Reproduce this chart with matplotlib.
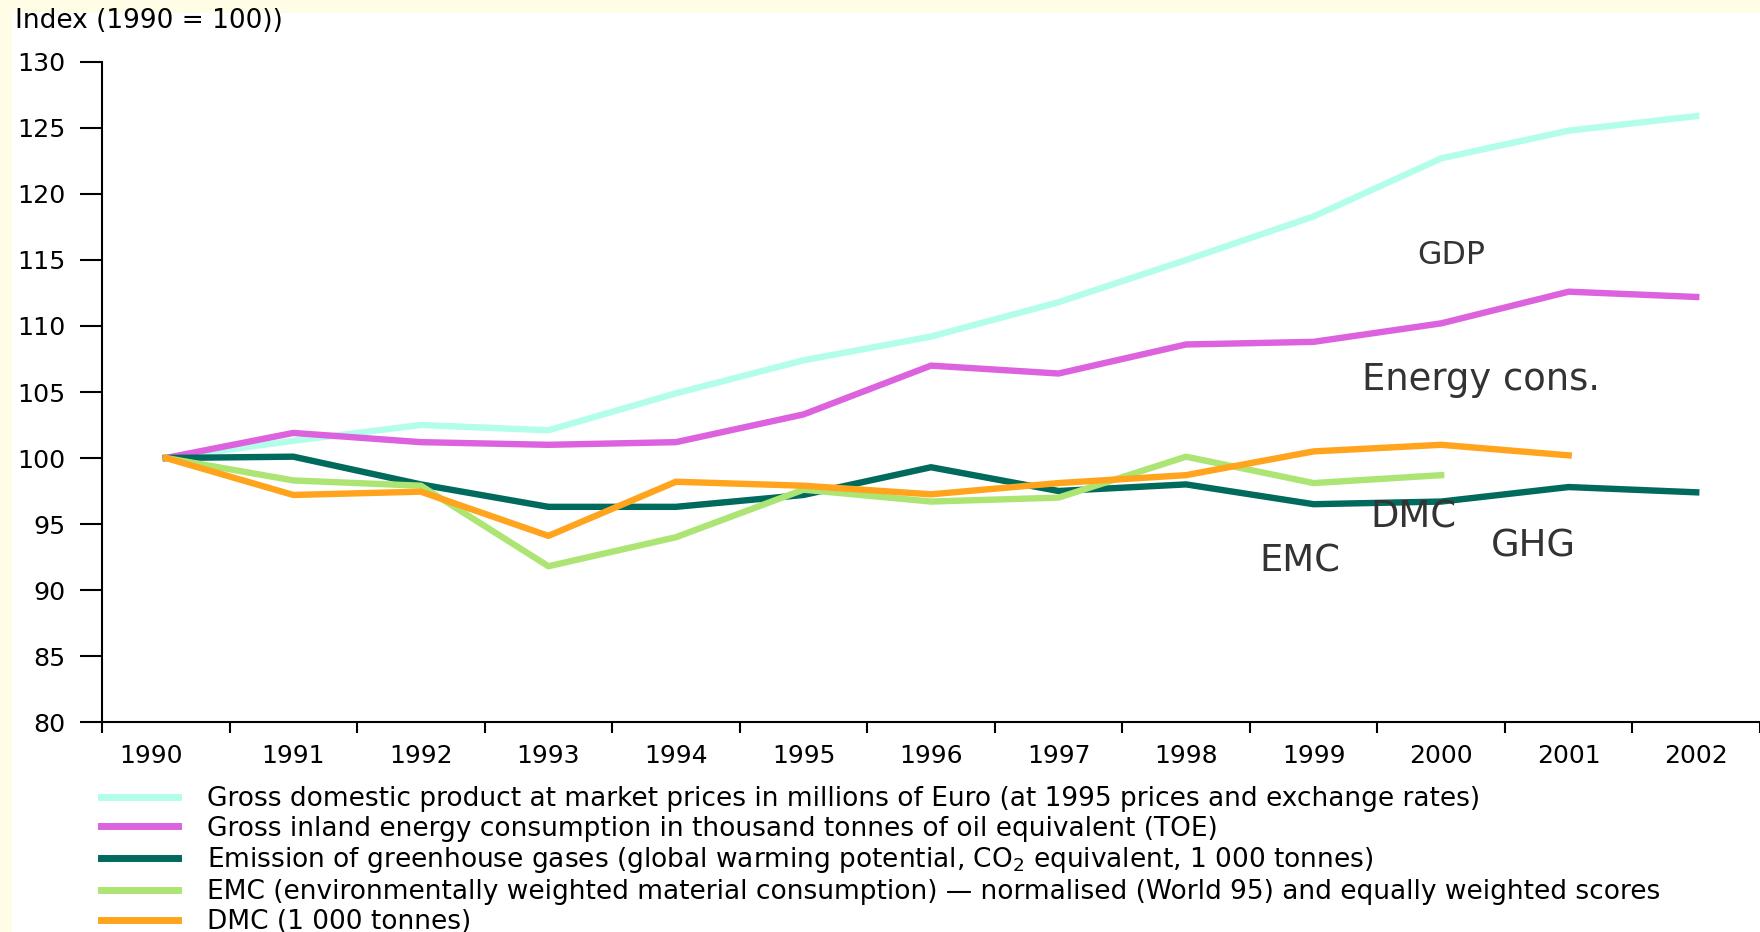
import numpy as np
import matplotlib
matplotlib.use('Agg')
import matplotlib.pyplot as plt
from matplotlib.patches import Rectangle
from matplotlib.transforms import ScaledTranslation

years = ['1990', '1991', '1992', '1993', '1994', '1995', '1996',
         '1997', '1998', '1999', '2000', '2001', '2002']

gdp    = [100, 101.3, 102.5, 102.1, 104.9, 107.4, 109.2, 111.8, 115.0, 118.3, 122.7, 124.8, 125.9]
energy = [100, 101.9, 101.2, 101.0, 101.2, 103.3, 107.0, 106.4, 108.6, 108.8, 110.2, 112.6, 112.2]
ghg    = [100, 100.1, 98.0, 96.3, 96.3, 97.2, 99.3, 97.5, 98.0, 96.5, 96.7, 97.8, 97.4]
emc    = [100, 98.3, 97.9, 91.8, 94.0, 97.6, 96.7, 97.0, 100.1, 98.1, 98.7]
dmc    = [100, 97.2, 97.45, 94.1, 98.2, 97.9, 97.25, 98.1, 98.7, 100.5, 101.0, 100.2]

labels = ['Gross domestic product at market prices in millions of Euro (at 1995 prices and exchange rates)',
          'Gross inland energy consumption in thousand tonnes of oil equivalent (TOE)',
          'Emission of greenhouse gases (global warming potential, CO$_2$ equivalent, 1 000 tonnes)',
          'EMC (environmentally weighted material consumption) \u2014 normalised (World 95) and equally weighted scores',
          'DMC (1 000 tonnes)']
colors = ['#B3FDEB', '#DD62DD', '#006A5C', '#ADE575', '#FFA41C']

plt.rcParams['font.family'] = ['DejaVu Sans']
W, H = 1760, 932
fig = plt.figure(figsize=(W / 100, H / 100), dpi=100, facecolor='#FFFDE6')
fig.add_artist(Rectangle((12 / W, 0), 1 - 12 / W, 1 - 13 / H, transform=fig.transFigure,
                         facecolor='white', edgecolor='none', zorder=0))

ax = fig.add_axes([102 / W, 210 / H, 1 - 102 / W, 660 / H])
ax.set_facecolor('none')

x = np.arange(len(years))
series = [gdp, energy, ghg, emc, dmc]
for vals, c, lab in zip(series, colors, labels):
    ax.plot(x[:len(vals)], vals, color=c, lw=4.6, label=lab)

ax.set_ylim(80, 130)
ax.set_xlim(-0.5, -0.5 + 1658 / 129)
ax.set_yticks(np.arange(80, 131, 5))
ax.tick_params(axis='y', length=15.5, width=1.5, pad=11, labelsize=18.3, colors='black')
ax.set_xticks(np.arange(-0.5, 13, 1))
ax.set_xticklabels([])
ax.set_xticks(x, minor=True)
ax.set_xticklabels(years, minor=True)
ax.tick_params(axis='x', which='major', length=8, width=1.5)
ax.tick_params(axis='x', which='minor', length=0, pad=16, labelsize=18)
for s in ['top', 'right']:
    ax.spines[s].set_visible(False)
for s in ['left', 'bottom']:
    ax.spines[s].set_linewidth(1.5)

# first year label sits a bit left of its point in the original
first = ax.get_xticklabels(minor=True)[0]
first.set_transform(first.get_transform() + ScaledTranslation(-0.15, 0, fig.dpi_scale_trans))

fig.text(15 / W, 1 - 21 / H, 'Index (1990 = 100))', fontsize=19, va='center', ha='left')

# labels on the lines
tc = '#333333'
for t, px, py, fs in [('GDP', 1451, 256, 22.8), ('Energy cons.', 1481, 380, 26.6),
                      ('EMC', 1300, 561, 26.6), ('DMC', 1413, 517, 26.6), ('GHG', 1533, 546, 26.6)]:
    fig.text(px / W, 1 - py / H, t, fontsize=fs, color=tc, ha='center', va='center')

leg = fig.legend(loc='upper left', bbox_to_anchor=(101 / W, 1 - 786 / H), frameon=False,
                 fontsize=19, handlelength=2.9, handletextpad=1.1, labelspacing=0.14,
                 borderpad=0, borderaxespad=0)
for l in leg.get_lines():
    l.set_linewidth(5)

fig.savefig('out.png', dpi=100, facecolor=fig.get_facecolor())
